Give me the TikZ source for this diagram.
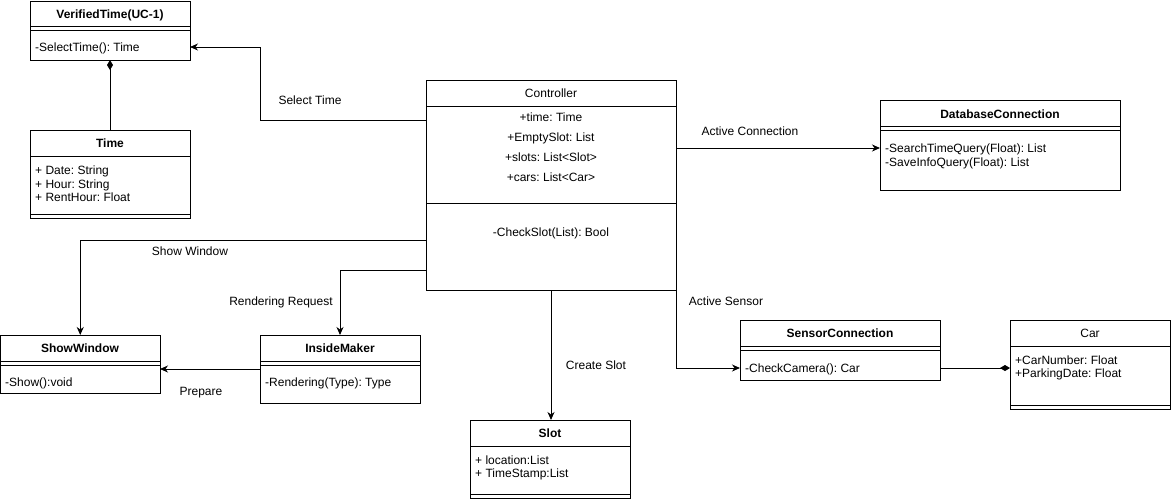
\documentclass[tikz,border=0pt]{standalone}
\usepackage{fontspec}
\setmainfont{Liberation Sans}
\usetikzlibrary{arrows.meta,calc}
\frenchspacing
\begin{document}
\frenchspacing
\begin{tikzpicture}[x=1pt,y=-1pt,
  box/.style={draw, line width=1pt, inner sep=0pt, outer sep=0pt, anchor=north west},
  txt/.style={font=\fontsize{12}{14}\selectfont\frenchspacing, inner sep=0pt, text height=8.6pt, text depth=0pt},
  ttl/.style={txt, font=\fontsize{12}{14}\selectfont\frenchspacing\bfseries},
  mem/.style={txt, anchor=west},
  conn/.style={line width=1pt},
  arr/.style={conn, -{Stealth[length=8pt,width=7pt,inset=2.5pt]}},
  comp/.style={conn, -{Diamond[length=10pt,width=6pt]}},
  sep/.style={line width=1pt}]
\useasboundingbox (0,0) rectangle (1171,499);

% VerifiedTime
\node[box, minimum width=160pt, minimum height=59pt] (vt) at (30,1) {};
\draw[sep] ([yshift=-25pt]vt.north west) -- ([yshift=-25pt]vt.north east);
\draw[sep] ([yshift=-29pt]vt.north west) -- ([yshift=-29pt]vt.north east);
\node[ttl] (vtt) at (110,14) {VerifiedTime(UC-1)};
\node[mem] (vtm) at (35,47) {-SelectTime(): Time};

% Time
\node[box, minimum width=160pt, minimum height=88pt] (time) at (30,130) {};
\draw[sep] ([yshift=-26pt]time.north west) -- ([yshift=-26pt]time.north east);
\draw[sep] ([yshift=-84pt]time.north west) -- ([yshift=-84pt]time.north east);
\node[ttl] (timet) at (110,143) {Time};
\node[mem] (timea1) at (35,170) {+ Date: String};
\node[mem] (timea2) at (35,184) {+ Hour: String};
\node[mem] (timea3) at (35,197) {+ RentHour: Float};

% Controller
\node[box, minimum width=250pt, minimum height=210pt] (ctrl) at (426,80) {};
\draw[sep] ([yshift=-26pt]ctrl.north west) -- ([yshift=-26pt]ctrl.north east);
\draw[sep] ([yshift=-123pt]ctrl.north west) -- ([yshift=-123pt]ctrl.north east);
\node[txt] (ctrlt) at (551,93) {Controller};
\node[txt] (ctrla1) at (551,117) {+time: Time};
\node[txt] (ctrla2) at (551,137) {+EmptySlot: List};
\node[txt] (ctrla3) at (551,157) {+slots: List<Slot>};
\node[txt] (ctrla4) at (551,177) {+cars: List<Car>};
\node[txt] (ctrlm) at (551,232) {-CheckSlot(List): Bool};

% DatabaseConnection
\node[box, minimum width=240pt, minimum height=90pt] (db) at (880,100) {};
\draw[sep] ([yshift=-26pt]db.north west) -- ([yshift=-26pt]db.north east);
\draw[sep] ([yshift=-30pt]db.north west) -- ([yshift=-30pt]db.north east);
\node[ttl] (dbt) at (1000,114) {DatabaseConnection};
\node[mem] (dbm1) at (885,148) {-SearchTimeQuery(Float): List};
\node[mem] (dbm2) at (885,162) {-SaveInfoQuery(Float): List};

% SensorConnection
\node[box, minimum width=200pt, minimum height=60pt] (sc) at (740,320) {};
\draw[sep] ([yshift=-26pt]sc.north west) -- ([yshift=-26pt]sc.north east);
\draw[sep] ([yshift=-30pt]sc.north west) -- ([yshift=-30pt]sc.north east);
\node[ttl] (sct) at (840,333) {SensorConnection};
\node[mem] (scm) at (745,368) {-CheckCamera(): Car};

% Car
\node[box, minimum width=160pt, minimum height=89pt] (car) at (1010,320) {};
\draw[sep] ([yshift=-26pt]car.north west) -- ([yshift=-26pt]car.north east);
\draw[sep] ([yshift=-85pt]car.north west) -- ([yshift=-85pt]car.north east);
\node[txt] (cart) at (1090,333) {Car};
\node[mem] (cara1) at (1015,360) {+CarNumber: Float};
\node[mem] (cara2) at (1015,373) {+ParkingDate: Float};

% ShowWindow
\node[box, minimum width=159.5pt, minimum height=58pt] (sw) at (0.5,335) {};
\draw[sep] ([yshift=-26pt]sw.north west) -- ([yshift=-26pt]sw.north east);
\draw[sep] ([yshift=-30pt]sw.north west) -- ([yshift=-30pt]sw.north east);
\node[ttl] (swt) at (80,348) {ShowWindow};
\node[mem] (swm) at (5,382) {-Show():void};

% InsideMaker
\node[box, minimum width=160pt, minimum height=68pt] (im) at (260,335) {};
\draw[sep] ([yshift=-26pt]im.north west) -- ([yshift=-26pt]im.north east);
\draw[sep] ([yshift=-30pt]im.north west) -- ([yshift=-30pt]im.north east);
\node[ttl] (imt) at (340,348) {InsideMaker};
\node[mem] (imm) at (265,382) {-Rendering(Type): Type};

% Slot
\node[box, minimum width=160pt, minimum height=78pt] (slot) at (470,420) {};
\draw[sep] ([yshift=-26pt]slot.north west) -- ([yshift=-26pt]slot.north east);
\draw[sep] ([yshift=-74pt]slot.north west) -- ([yshift=-74pt]slot.north east);
\node[ttl] (slott) at (550,433) {Slot};
\node[mem] (slota1) at (475,460) {+ location:List};
\node[mem] (slota2) at (475,473) {+ TimeStamp:List};

% Connectors
\draw[arr] ([yshift=-40pt]ctrl.north west) -- ++(-166,0) |- (vtm -| vt.east);
\node[txt] (lselect) at (310,100) {Select Time};

\draw[comp] (time.north) -- (vt.south);

\draw[arr] ([yshift=50pt]ctrl.south west) -| (sw.north);
\node[txt] (lshow) at (190,251) {Show Window};

\draw[arr] ([yshift=20pt]ctrl.south west) -| (im.north);
\node[txt] (lrender) at (281,301) {Rendering Request};

\draw[arr] (im.west) -- (im.west -| sw.east);
\node[txt] (lprep) at (201,391) {Prepare};

\draw[arr] (ctrl.south) -- (ctrl.south |- slot.north);
\node[txt] (lcreate) at (596,365) {Create Slot};

\draw[arr] (dbm1 -| ctrl.east) -- (dbm1 -| db.west);
\node[txt] (lconn) at (750,131) {Active Connection};

\draw[arr] (ctrl.south east) |- (scm -| sc.west);
\node[txt] (lsensor) at (726,301) {Active Sensor};

\draw[comp] (scm -| sc.east) -- (scm -| car.west);
\end{tikzpicture}
\end{document}
